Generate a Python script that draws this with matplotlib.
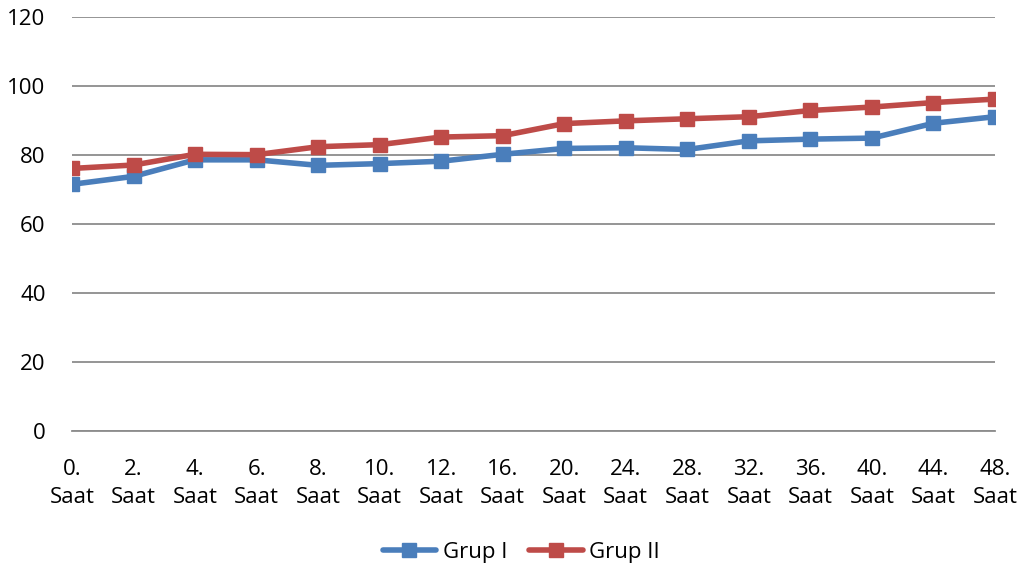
import matplotlib
matplotlib.use("Agg")
import matplotlib.pyplot as plt

BLUE = "#4A7EBB"
RED = "#BE4B48"
GRID = "#8C8C8C"

hours = ["0.", "2.", "4.", "6.", "8.", "10.", "12.", "16.", "20.", "24.",
         "28.", "32.", "36.", "40.", "44.", "48."]
grup1 = [71.5, 73.8, 78.6, 78.6, 77.0, 77.5, 78.2, 80.2, 81.9, 82.1,
         81.6, 84.1, 84.6, 84.9, 89.2, 91.1]
grup2 = [76.1, 77.1, 80.2, 80.1, 82.4, 83.0, 85.2, 85.6, 89.1, 89.9,
         90.5, 91.1, 92.9, 93.9, 95.2, 96.2]

plt.rcParams["font.family"] = ["Open Sans", "DejaVu Sans"]

fig = plt.figure(figsize=(10.24, 5.74), dpi=100)
ax = fig.add_axes([72 / 1024, 1 - 431 / 574, 923 / 1024, 414 / 574])

x = list(range(len(hours)))
ax.plot(x, grup1, color=BLUE, lw=4, marker="s", ms=10, label="Grup I",
        solid_joinstyle="round", solid_capstyle="round", zorder=3)
ax.plot(x, grup2, color=RED, lw=4, marker="s", ms=10, label="Grup II",
        solid_joinstyle="round", solid_capstyle="round", zorder=3)

ax.set_xlim(0, len(hours) - 1)
ax.set_ylim(0, 120)
ax.set_yticks(range(0, 121, 20))
ax.set_xticks(x)
ax.set_xticklabels([f"{h}\nSaat" for h in hours], linespacing=1.45)
ax.tick_params(axis="both", length=0, labelsize=16, colors="black")
ax.tick_params(axis="x", pad=20)
ax.tick_params(axis="y", pad=19)

ax.grid(axis="y", color=GRID, lw=1.3)
ax.set_axisbelow(True)
for side in ["left", "right", "top"]:
    ax.spines[side].set_visible(False)
ax.spines["bottom"].set_color(GRID)
ax.spines["bottom"].set_linewidth(1.3)

ax.legend(loc="center", bbox_to_anchor=(0.487, -0.293), ncol=2,
          frameon=False, fontsize=16, handlelength=2.4, columnspacing=1.0,
          handletextpad=0.3)

fig.savefig("out.png", dpi=100)
